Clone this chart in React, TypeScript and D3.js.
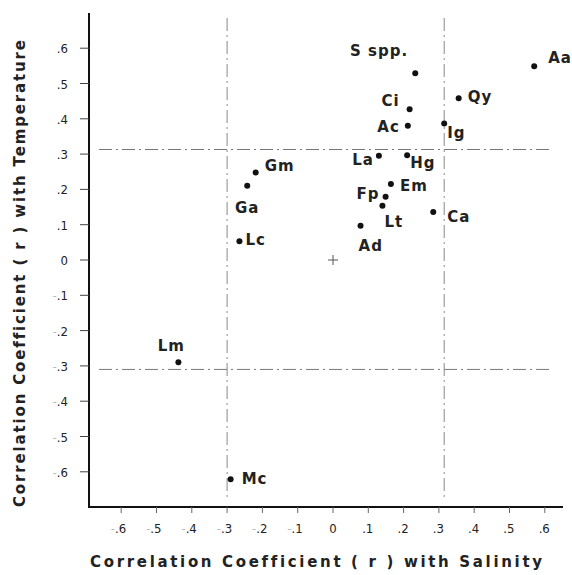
import React from "react";
import * as d3 from "d3";

const species = ["Aa", "S spp.", "Qy", "Ci", "Ac", "Ig", "La", "Hg", "Gm", "Ga", "Em", "Fp", "Lt", "Ca", "Ad", "Lc", "Lm", "Mc"];
const salinityR = [0.57, 0.233, 0.356, 0.217, 0.212, 0.315, 0.13, 0.21, -0.219, -0.243, 0.164, 0.149, 0.14, 0.284, 0.078, -0.265, -0.438, -0.29];
const temperatureR = [0.549, 0.529, 0.458, 0.427, 0.38, 0.387, 0.295, 0.297, 0.248, 0.21, 0.215, 0.179, 0.154, 0.136, 0.097, 0.053, -0.29, -0.621];
const tickValues = [-0.6, -0.5, -0.4, -0.3, -0.2, -0.1, 0, 0.1, 0.2, 0.3, 0.4, 0.5, 0.6];
const salinityRefLines = [-0.3, 0.315];
const temperatureRefLines = [0.313, -0.31];
const xTitle = "Correlation Coefficient ( r ) with Salinity";
const yTitle = "Correlation Coefficient ( r ) with Temperature";

// label placement (layout only): [dx, dy, anchor]
const labelPlacement: [number, number, string][] = [
  [14, -3, "start"],
  [-7, -17, "end"],
  [9, 4, "start"],
  [-10, -3, "end"],
  [-8, 6, "end"],
  [3, 15, "start"],
  [-5, 9, "end"],
  [3, 13, "start"],
  [9, -1, "start"],
  [0, 27, "middle"],
  [9, 7, "start"],
  [-6, 2, "end"],
  [2, 21, "start"],
  [14, 10, "start"],
  [-2, 25, "start"],
  [6, 4, "start"],
  [-7, -11, "middle"],
  [11, 5, "start"],
];

const fmt = (v: number) => {
  if (v === 0) return { minus: "", body: "0" };
  const s = Math.abs(v).toFixed(1).replace(/^0/, "");
  return { minus: v < 0 ? "-" : "", body: s };
};

export default function App() {
  const W = 572, H = 575;
  const x = d3.scaleLinear().domain([-0.6, 0.6]).range([121.2, 544.8]);
  const y = d3.scaleLinear().domain([-0.6, 0.6]).range([471.8, 48.2]);
  const axisX = 89, axisY = 507;
  const tickFont = "'DejaVu Sans Condensed', 'Liberation Sans Narrow', sans-serif";
  const labelFont = "'DejaVu Sans', sans-serif";
  const dash = "13,4,2,4";
  const noLig = { fontVariantLigatures: "none" as const };
  return (
    <svg width={W} height={H} style={{ position: "absolute", left: 0, top: 0, background: "#fff" }}>
      <rect x={0} y={0} width={W} height={H} fill="#fff" />
      {/* reference lines */}
      {temperatureRefLines.map((v, i) => (
        <line key={"h" + i} x1={99} x2={552} y1={y(v)} y2={y(v)} stroke="#777" strokeWidth={1} strokeDasharray={dash} />
      ))}
      {salinityRefLines.map((v, i) => (
        <line key={"v" + i} x1={x(v)} x2={x(v)} y1={18} y2={498} stroke="#888" strokeWidth={1} strokeDasharray={dash} />
      ))}
      {/* origin cross */}
      <line x1={x(0) - 5} x2={x(0) + 5} y1={y(0)} y2={y(0)} stroke="#555" strokeWidth={1} />
      <line x1={x(0)} x2={x(0)} y1={y(0) - 5} y2={y(0) + 5} stroke="#555" strokeWidth={1} />
      {/* axes */}
      <line x1={axisX} x2={axisX} y1={13} y2={axisY + 1} stroke="#111" strokeWidth={2} />
      <line x1={axisX - 1} x2={563} y1={axisY} y2={axisY} stroke="#111" strokeWidth={2} />
      {tickValues.map((v) => {
        const f = fmt(v);
        return (
          <g key={"yt" + v}>
            <line x1={axisX - 9} x2={axisX} y1={y(v)} y2={y(v)} stroke="#444" strokeWidth={1} />
            <text x={68} y={y(v) + 5} textAnchor="end" fontFamily={tickFont} fontSize={13} fill="#222">
              {f.minus && <tspan fill="#bbb">{f.minus}</tspan>}
              {f.body}
            </text>
          </g>
        );
      })}
      {tickValues.map((v) => {
        const f = fmt(v);
        return (
          <g key={"xt" + v}>
            <line x1={x(v)} x2={x(v)} y1={axisY} y2={axisY + 6} stroke="#666" strokeWidth={1} />
            <text x={x(v) + (v === 0 ? 0 : 5)} y={533} textAnchor={v === 0 ? "middle" : "end"} fontFamily={tickFont} fontSize={13} fill="#222">
              {f.minus && <tspan fill="#bbb">{f.minus}</tspan>}
              {f.body}
            </text>
          </g>
        );
      })}
      {/* titles */}
      <text x={90} y={567} textLength={452} lengthAdjust="spacing" fontFamily={labelFont} fontWeight="bold" fontSize={15} fill="#222" style={noLig}>
        {xTitle}
      </text>
      <text transform="translate(25,507) rotate(-90)" x={0} y={0} textLength={467} lengthAdjust="spacing" fontFamily={labelFont} fontWeight="bold" fontSize={15} fill="#222" style={noLig}>
        {yTitle}
      </text>
      {/* points */}
      {species.map((s, i) => {
        const px = x(salinityR[i]);
        const py = y(temperatureR[i]);
        const [dx, dy, anchor] = labelPlacement[i];
        return (
          <g key={s}>
            <circle cx={px} cy={py} r={3} fill="#111" />
            <text x={px + dx} y={py + dy} textAnchor={anchor as any} fontFamily={labelFont} fontWeight="bold" fontSize={15} letterSpacing={1} fill="#222">
              {s}
            </text>
          </g>
        );
      })}
    </svg>
  );
}
